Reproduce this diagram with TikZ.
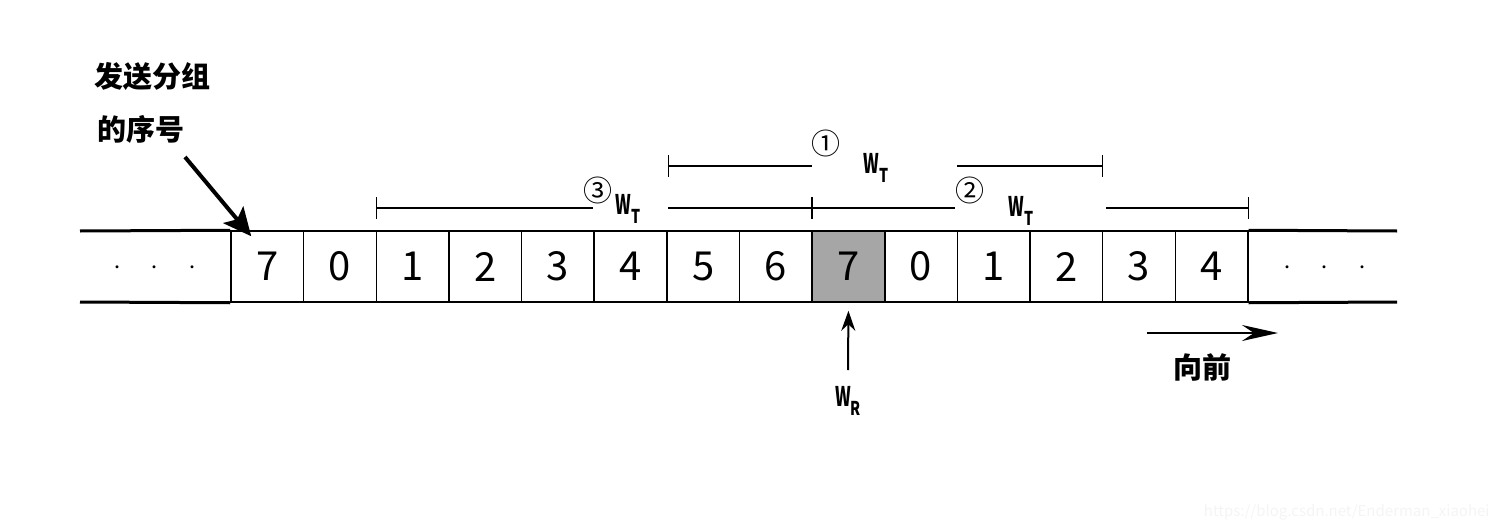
\documentclass[tikz,border=0pt]{standalone}
\usepackage{fontspec}
\usepackage{graphicx}
\setmainfont{Noto Sans CJK SC}
\usetikzlibrary{arrows.meta}
\newcommand{\wsub}[1]{\scalebox{0.62}[1]{\bfseries W}\raisebox{-4.5pt}{\scalebox{0.75}[1]{\fontsize{9.5}{10}\selectfont\bfseries #1}}}

\begin{document}
\begin{tikzpicture}[x=0.5pt,y=-0.5pt,
  cell/.style={draw,line width=0.75pt,minimum width=36.32pt,minimum height=35.5pt,inner sep=0pt,font=\fontsize{20}{22}\selectfont},
  tape/.style={line width=1.5pt},
  wline/.style={line width=0.6pt},
  lbl/.style={inner sep=0pt,font=\fontsize{14.5}{16}\selectfont\bfseries},
  circ/.style={inner sep=0pt,font=\fontsize{14.5}{16}\selectfont},
  wlbl/.style={inner sep=0pt,font=\fontsize{13.5}{14}\selectfont},
  bigarrow/.style={line width=2pt,-{Stealth[length=14pt,width=13pt,inset=3pt]}},
  uparrow/.style={line width=1pt,-{Stealth[length=10pt,width=7pt]}},
  fwdarrow/.style={line width=1.2pt,-{Stealth[length=18pt,width=8pt,inset=6pt]}}]
\useasboundingbox (0,0) rectangle (1500,530);
\foreach \d/\f [count=\i] in {7/white,0/white,1/white,2/white,3/white,4/white,5/white,6/white,7/gray!70,0/white,1/white,2/white,3/white,4/white}
  \node[cell,fill=\f] (c\i) at ({231+72.64*(\i-0.5)},266.5) {\d};
\draw[tape] (80,231) -- (c1.north west);
\draw[tape] (80,302) -- (c1.south west);
\draw[tape] (c14.north east) -- (1397,231);
\draw[tape] (c14.south east) -- (1397,302);
\node[font=\fontsize{14}{16}\selectfont] (ldots) at (155,268) {${\cdot}\hspace{15pt}{\cdot}\hspace{15pt}{\cdot}$};
\node[font=\fontsize{14}{16}\selectfont] (rdots) at (1325,268) {${\cdot}\hspace{15pt}{\cdot}\hspace{15pt}{\cdot}$};
\node[lbl,anchor=west] (snd1) at (94,77) {发送分组};
\node[lbl,anchor=west] (snd2) at (97,129) {的序号};
\coordinate (ptr) at (185,157);
\draw[bigarrow] (ptr) -- ([shift={(21,6)}]c1.north west);
\node[circ] (n1) at (826,143) {①};
\node[wlbl] (wt1) at (876,168) {\wsub{T}};
\draw[wline,{Bar[width=11pt]}-] (c6.north east |- 0,166) -- (812,166);
\draw[wline,-{Bar[width=11pt]}] (957,166) -- (c12.north east |- 0,166);
\node[circ] (n3) at (598,190) {③};
\node[wlbl] (wt3) at (628,209) {\wsub{T}};
\draw[wline,{Bar[width=11pt]}-] (c3.north west |- 0,208) -- (593,208);
\draw[wline] (668,208) -- (c8.north east |- 0,208);
\node[circ] (n2) at (970,190) {②};
\node[wlbl] (wt2) at (1021,211) {\wsub{T}};
\draw[wline,{Bar[width=11pt]}-] (c9.north west |- 0,208) -- (955,208);
\draw[wline,-{Bar[width=11pt]}] (1106,208) -- (c14.north east |- 0,208);
\node[wlbl] (wr) at (848,401) {\wsub{R}};
\coordinate (wrtail) at (848,370);
\draw[uparrow] (wrtail) -- ([yshift=-4pt]c9.south);
\coordinate (fwd0) at (1147,333);
\coordinate (fwd1) at (1278,333);
\draw[fwdarrow] (fwd0) -- (fwd1);
\node[lbl] (fwd) at (1202,367) {向前};
\node[anchor=east,inner sep=0pt,text=gray!9,font=\fontsize{7.5}{9}\selectfont] (mark) at (1490,512) {https://blog.csdn.net/Enderman\_xiaohei};
\end{tikzpicture}
\end{document}
